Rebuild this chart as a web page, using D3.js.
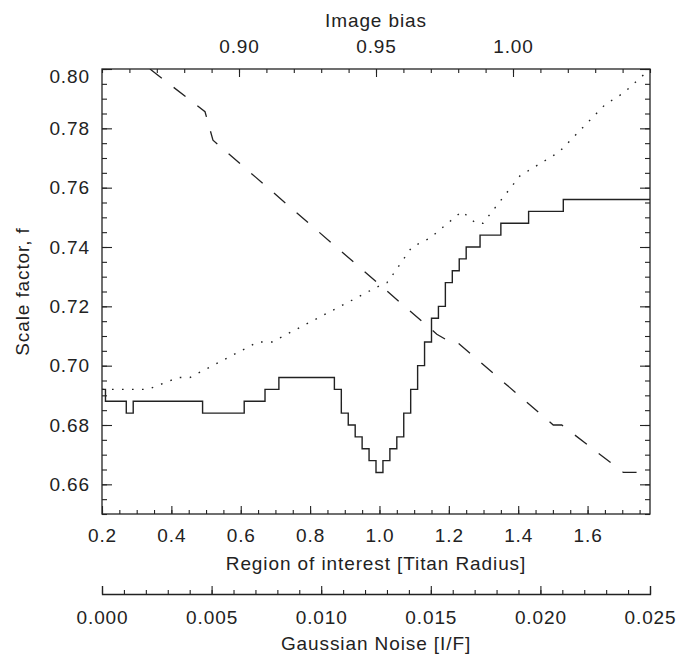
<!DOCTYPE html>
<html>
<head>
<meta charset="utf-8">
<script src="https://cdn.jsdelivr.net/npm/d3@7"></script>
<style>
  html, body { margin: 0; padding: 0; background: #fff; }
  svg text { font-family: "Liberation Sans", Arial, sans-serif; font-size: 19px; fill: #222; letter-spacing: 0.9px; }
</style>
</head>
<body>
<svg id="chart" width="692" height="656"></svg>
<script>
// ---- data ----
// Solid: scale factor vs region of interest [Titan radius] (step function)
const regionX = [0.20, 0.21, 0.27, 0.29, 0.49, 0.61, 0.67, 0.71, 0.87, 0.89, 0.91, 0.93, 0.95, 0.97, 0.99, 1.01, 1.03, 1.05, 1.07, 1.09, 1.11, 1.13, 1.15, 1.17, 1.19, 1.21, 1.23, 1.25, 1.29, 1.35, 1.43, 1.53, 1.78];
const regionF = [0.692, 0.688, 0.684, 0.688, 0.684, 0.688, 0.692, 0.696, 0.692, 0.684, 0.680, 0.676, 0.672, 0.668, 0.664, 0.668, 0.672, 0.676, 0.684, 0.692, 0.700, 0.708, 0.716, 0.720, 0.728, 0.732, 0.736, 0.740, 0.744, 0.748, 0.752, 0.756, 0.756];

// Dashed: scale factor vs image bias
const biasX = [0.8675, 0.8876, 0.8905, 0.9722, 0.9770, 0.9795, 1.0147, 1.0178, 1.0403, 1.0451];
const biasF = [0.800, 0.7856, 0.776, 0.7106, 0.708, 0.708, 0.680, 0.680, 0.664, 0.664];

// Dotted: scale factor vs Gaussian noise [I/F]
const noiseX = [0, 0.0021, 0.00347, 0.00401, 0.00712, 0.00776, 0.01268, 0.01300, 0.01330, 0.01414, 0.01496, 0.01642, 0.01706, 0.01738, 0.01907, 0.02085, 0.02295, 0.02381, 0.025];
const noiseF = [0.692, 0.692, 0.696, 0.696, 0.708, 0.708, 0.727, 0.728, 0.731, 0.740, 0.743, 0.752, 0.748, 0.748, 0.764, 0.772, 0.788, 0.792, 0.800];

// ticks
const yMajor = [0.66, 0.68, 0.70, 0.72, 0.74, 0.76, 0.78, 0.80];
const regionTicks = [0.2, 0.4, 0.6, 0.8, 1.0, 1.2, 1.4, 1.6];
const biasTicks = [0.90, 0.95, 1.00];
const noiseTicks = [0.000, 0.005, 0.010, 0.015, 0.020, 0.025];

// ---- layout ----
const L = 102, R = 650, T = 69, B = 514, NOISE_Y = 594;
const svg = d3.select("#chart");

const y = d3.scaleLinear([0.65, 0.80], [B, T]);
const xRegion = d3.scaleLinear([0.2, 1.78], [L, R]);
const xBias = d3.scaleLinear([0.85, 1.05], [L, R]);
const xNoise = d3.scaleLinear([0, 0.025], [L, R]);

const range = (a, b, s) => d3.range(Math.round((b - a) / s) + 1).map(i => +(a + i * s).toFixed(6));

function clean(g) { g.select(".domain").remove(); g.selectAll("line").attr("stroke", "#222").attr("stroke-width", 1.1); }

// minor ticks
svg.append("g").attr("transform", `translate(0,${B})`)
  .call(d3.axisBottom(xRegion).tickValues(range(0.2, 1.75, 0.05)).tickSize(-4).tickFormat(""))
  .call(clean);
svg.append("g").attr("transform", `translate(0,${T})`)
  .call(d3.axisTop(xBias).tickValues(range(0.85, 1.05, 0.01)).tickSize(-4).tickFormat(""))
  .call(clean);
svg.append("g").attr("transform", `translate(${L},0)`)
  .call(d3.axisLeft(y).tickValues(range(0.65, 0.80, 0.005)).tickSize(-5).tickFormat(""))
  .call(clean);
svg.append("g").attr("transform", `translate(${R},0)`)
  .call(d3.axisRight(y).tickValues(range(0.65, 0.80, 0.005)).tickSize(-5).tickFormat(""))
  .call(clean);

// major ticks with labels
svg.append("g").attr("transform", `translate(0,${B})`)
  .call(d3.axisBottom(xRegion).tickValues(regionTicks).tickSize(-8).tickPadding(15).tickFormat(d3.format(".1f")))
  .call(clean);
svg.append("g").attr("transform", `translate(0,${T})`)
  .call(d3.axisTop(xBias).tickValues(biasTicks).tickSize(-8).tickPadding(16).tickFormat(d3.format(".2f")))
  .call(clean);
const yAx = svg.append("g").attr("transform", `translate(${L},0)`)
  .call(d3.axisLeft(y).tickValues(yMajor).tickSize(-10).tickPadding(12).tickFormat(d3.format(".2f")))
  .call(clean);
yAx.selectAll(".tick text").filter(d => d === 0.80).attr("dy", "0.72em");
svg.append("g").attr("transform", `translate(${R},0)`)
  .call(d3.axisRight(y).tickValues(yMajor).tickSize(-10).tickFormat(""))
  .call(clean);

svg.selectAll(".tick text").attr("fill", "#222").attr("font-family", null).attr("font-size", null);

// frame
svg.append("rect").attr("x", L).attr("y", T).attr("width", R - L).attr("height", B - T)
  .attr("fill", "none").attr("stroke", "#222").attr("stroke-width", 1.3);

// noise axis
const nAx = svg.append("g").attr("transform", `translate(0,${NOISE_Y})`);
nAx.append("g")
  .call(d3.axisBottom(xNoise).tickValues(range(0, 0.025, 0.001)).tickSize(-4).tickSizeOuter(0).tickFormat(""))
  .call(clean);
nAx.append("g")
  .call(d3.axisBottom(xNoise).tickValues(noiseTicks).tickSize(-8).tickSizeOuter(-8).tickPadding(17).tickFormat(d3.format(".3f")))
  .call(g => { g.select(".domain").attr("stroke", "#222").attr("stroke-width", 1.3); g.selectAll("line").attr("stroke", "#222").attr("stroke-width", 1.1); });
nAx.selectAll(".tick text").attr("fill", "#222").attr("font-family", null).attr("font-size", null);

// titles
svg.append("text").attr("x", (L + R) / 2).attr("y", 20).attr("dy", "0.35em").attr("text-anchor", "middle").text("Image bias");
svg.append("text").attr("x", (L + R) / 2).attr("y", 563).attr("dy", "0.35em").attr("text-anchor", "middle").text("Region of interest [Titan Radius]");
svg.append("text").attr("x", (L + R) / 2).attr("y", 643).attr("dy", "0.35em").attr("text-anchor", "middle").text("Gaussian Noise [I/F]");
svg.append("text").attr("transform", `translate(22,${(T + B) / 2}) rotate(-90)`).attr("dy", "0.35em").attr("text-anchor", "middle").text("Scale factor, f");

// clip
svg.append("clipPath").attr("id", "clip").append("rect").attr("x", L).attr("y", T).attr("width", R - L).attr("height", B - T);
const plot = svg.append("g").attr("clip-path", "url(#clip)");

const solid = d3.line().x(d => xRegion(d[0])).y(d => y(d[1])).curve(d3.curveStepAfter);
plot.append("path").datum(d3.zip(regionX, regionF)).attr("d", solid)
  .attr("fill", "none").attr("stroke", "#222").attr("stroke-width", 1.4);

const dashed = d3.line().x(d => xBias(d[0])).y(d => y(d[1]));
plot.append("path").datum(d3.zip(biasX, biasF)).attr("d", dashed)
  .attr("fill", "none").attr("stroke", "#222").attr("stroke-width", 1.3).attr("stroke-dasharray", "15,15");

const dotted = d3.line().x(d => xNoise(d[0])).y(d => y(d[1]));
plot.append("path").datum(d3.zip(noiseX, noiseF)).attr("d", dotted)
  .attr("fill", "none").attr("stroke", "#222").attr("stroke-width", 1.4).attr("stroke-dasharray", "1.6,8.4");
</script>
</body>
</html>
